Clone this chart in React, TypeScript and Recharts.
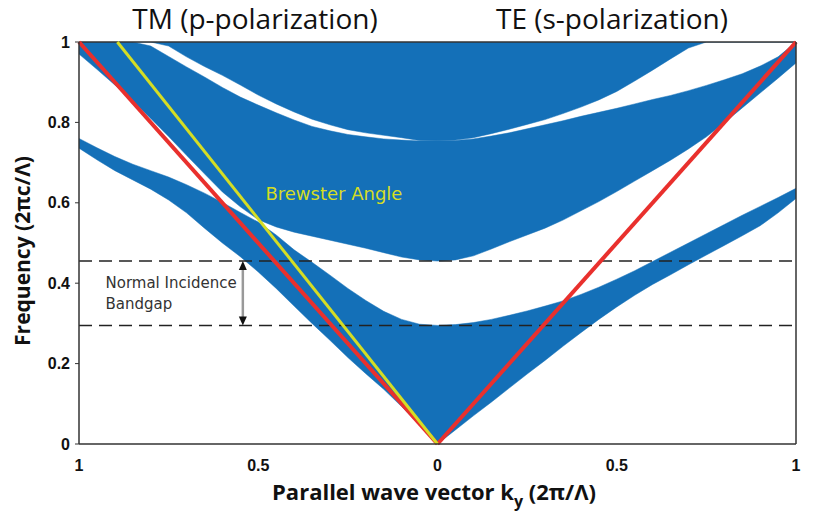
import { ComposedChart, Area, XAxis, YAxis, ReferenceLine, ReferenceDot } from 'recharts';

// |k_y| sample points (2π/Λ), shared by both polarizations
const K = [0, 0.05, 0.1, 0.15, 0.2, 0.25, 0.3, 0.35, 0.4, 0.45, 0.5, 0.55, 0.6, 0.65, 0.7, 0.75, 0.8, 0.85, 0.9, 0.95, 1];

// TM (p-polarization) band edges, frequency (2πc/Λ)
const TM_B1_LO = [0, 0.047, 0.093, 0.136, 0.175, 0.215, 0.258, 0.3, 0.343, 0.387, 0.428, 0.466, 0.5, 0.537, 0.575, 0.607, 0.634, 0.657, 0.68, 0.707, 0.736];
const TM_B1_HI = [0.295, 0.298, 0.31, 0.33, 0.357, 0.387, 0.42, 0.452, 0.483, 0.52, 0.552, 0.576, 0.601, 0.624, 0.645, 0.664, 0.68, 0.696, 0.715, 0.737, 0.76];
const TM_B2_LO = [0.455, 0.458, 0.465, 0.476, 0.487, 0.497, 0.507, 0.517, 0.527, 0.54, 0.558, 0.59, 0.627, 0.672, 0.718, 0.765, 0.81, 0.853, 0.893, 0.932, 0.97];
const TM_B2_HI = [0.755, 0.754, 0.756, 0.759, 0.764, 0.77, 0.779, 0.79, 0.806, 0.824, 0.843, 0.863, 0.887, 0.913, 0.938, 0.964, 0.99, 1, 1, 1, 1];
const TM_B3_LO = [0.755, 0.755, 0.762, 0.768, 0.774, 0.782, 0.794, 0.808, 0.826, 0.846, 0.868, 0.893, 0.917, 0.939, 0.963, 0.99, 1, 1, 1, 1, 1];

// TE (s-polarization) band edges
const TE_B1_LO = [0, 0.035, 0.07, 0.104, 0.139, 0.174, 0.208, 0.243, 0.277, 0.31, 0.341, 0.37, 0.397, 0.421, 0.446, 0.47, 0.494, 0.518, 0.543, 0.575, 0.611];
const TE_B1_HI = [0.295, 0.297, 0.302, 0.31, 0.32, 0.331, 0.343, 0.356, 0.372, 0.39, 0.41, 0.431, 0.454, 0.477, 0.5, 0.523, 0.546, 0.569, 0.591, 0.613, 0.636];
const TE_B2_LO = [0.455, 0.458, 0.468, 0.485, 0.503, 0.52, 0.537, 0.557, 0.58, 0.603, 0.628, 0.654, 0.68, 0.706, 0.734, 0.764, 0.799, 0.836, 0.873, 0.91, 0.948];
const TE_B2_HI = [0.755, 0.755, 0.759, 0.766, 0.774, 0.784, 0.794, 0.804, 0.815, 0.825, 0.835, 0.846, 0.857, 0.867, 0.879, 0.892, 0.906, 0.921, 0.94, 0.963, 1];
const TE_B3_LO = [0.755, 0.756, 0.762, 0.772, 0.783, 0.795, 0.807, 0.822, 0.838, 0.856, 0.877, 0.903, 0.93, 0.958, 0.985, 1, 1, 1, 1, 1, 1];

const TOP = 1;
const GAP_EDGES = [0.455, 0.295];
const BREWSTER_K = 0.893;

const X_TICKS = [-1, -0.5, 0, 0.5, 1];
const Y_TICKS = [0, 0.2, 0.4, 0.6, 0.8, 1];

const BLUE = '#1470b8';
const RED = '#e9302d';
const YELLOW = '#d5dd24';

const rows: any[] = [];
for (let i = K.length - 1; i > 0; i--) {
  rows.push({ x: -K[i], b1: [TM_B1_LO[i], TM_B1_HI[i]], b2: [TM_B2_LO[i], TM_B2_HI[i]], b3: [TM_B3_LO[i], TOP] });
}
for (let i = 0; i < K.length; i++) {
  rows.push({ x: K[i], b1: [TE_B1_LO[i], TE_B1_HI[i]], b2: [TE_B2_LO[i], TE_B2_HI[i]], b3: [TE_B3_LO[i], TOP] });
}

const tickStyle = { fontFamily: 'Liberation Sans', fontWeight: 700, fontSize: 16, fill: '#111' };
const fmtY = (v: number) => (v === 0 ? '0' : v === 1 ? '1' : String(v));

const DoubleArrow = (p: any) => {
  const { x1, y1, x2, y2 } = p;
  const top = Math.min(y1, y2);
  const bot = Math.max(y1, y2);
  return (
    <g>
      <line x1={x1} y1={top + 6} x2={x2} y2={bot - 6} stroke="#999" strokeWidth={2.5} />
      <polygon points={`${x1},${top} ${x1 - 4},${top + 9} ${x1 + 4},${top + 9}`} fill="#111" />
      <polygon points={`${x1},${bot} ${x1 - 4},${bot - 9} ${x1 + 4},${bot - 9}`} fill="#111" />
    </g>
  );
};

export default function App() {
  return (
    <div style={{ position: 'relative', width: 832, height: 519, background: '#fff' }}>
      <style>{'body{margin:0}'}</style>
      <ComposedChart width={832} height={519} data={rows} margin={{ top: 42, right: 0, bottom: 45, left: 0 }}>
        <XAxis
          dataKey="x"
          type="number"
          domain={[-1, 1]}
          ticks={X_TICKS}
          tickFormatter={(v: number) => String(Math.abs(v))}
          height={30}
          tick={tickStyle}
          tickSize={0}
          tickMargin={16}
          axisLine={{ stroke: '#333', strokeWidth: 1.5 }}
          allowDataOverflow
        />
        <YAxis
          domain={[0, 1]}
          ticks={Y_TICKS}
          tickFormatter={fmtY}
          width={79}
          tick={tickStyle}
          tickSize={4}
          tickMargin={5}
          axisLine={{ stroke: '#333', strokeWidth: 1.5 }}
          tickLine={{ stroke: '#333' }}
          allowDataOverflow
        />
        <YAxis
          yAxisId="r"
          orientation="right"
          domain={[0, 1]}
          ticks={Y_TICKS}
          tickFormatter={fmtY}
          width={36}
          tick={{ ...tickStyle, textAnchor: 'start' }}
          tickSize={3}
          tickMargin={4}
          axisLine={{ stroke: '#333', strokeWidth: 1.5 }}
          tickLine={{ stroke: '#333' }}
        />
        <Area dataKey="b1" type="linear" fill={BLUE} fillOpacity={1} stroke={BLUE} strokeWidth={0.5} isAnimationActive={false} />
        <Area dataKey="b2" type="linear" fill={BLUE} fillOpacity={1} stroke={BLUE} strokeWidth={0.5} isAnimationActive={false} />
        <Area dataKey="b3" type="linear" fill={BLUE} fillOpacity={1} stroke={BLUE} strokeWidth={0.5} isAnimationActive={false} />
        <ReferenceLine y={1} stroke="#333" strokeWidth={1.5} />
        {GAP_EDGES.map((g) => (
          <ReferenceLine key={g} y={g} stroke="#222" strokeWidth={1.5} strokeDasharray="13 7" />
        ))}
        <ReferenceLine segment={[{ x: -1, y: 1 }, { x: 0, y: 0 }]} stroke={RED} strokeWidth={4} />
        <ReferenceLine segment={[{ x: 0, y: 0 }, { x: 1, y: 1 }]} stroke={RED} strokeWidth={4} />
        <ReferenceLine segment={[{ x: -BREWSTER_K, y: 1 }, { x: 0, y: 0 }]} stroke={YELLOW} strokeWidth={3} />
        <ReferenceLine segment={[{ x: -0.543, y: GAP_EDGES[0] }, { x: -0.543, y: GAP_EDGES[1] }]} shape={DoubleArrow} />
        <ReferenceDot
          x={-0.48}
          y={0.607}
          r={0}
          shape={(p: any) => (
            <text x={p.cx} y={p.cy} fill={YELLOW} fontFamily="DejaVu Sans" fontSize={18}>
              Brewster Angle
            </text>
          )}
        />
        <ReferenceDot
          x={-0.926}
          y={0.388}
          r={0}
          shape={(p: any) => (
            <text x={p.cx} y={p.cy} fill="#333" fontFamily="DejaVu Sans" fontSize={15}>
              <tspan x={p.cx}>Normal Incidence</tspan>
              <tspan x={p.cx} dy={21}>Bandgap</tspan>
            </text>
          )}
        />
      </ComposedChart>
      <svg width={832} height={519} style={{ position: 'absolute', left: 0, top: 0, pointerEvents: 'none' }}>
        <text x={255} y={29} textAnchor="middle" fontFamily="Open Sans" fontSize={28} fill="#111">
          TM (p-polarization)
        </text>
        <text x={612} y={29} textAnchor="middle" fontFamily="Open Sans" fontSize={28} fill="#111">
          TE (s-polarization)
        </text>
        <text
          x={0}
          y={0}
          transform="translate(30,251) rotate(-90)"
          textAnchor="middle"
          fontFamily="Open Sans"
          fontWeight={700}
          fontSize={21}
          fill="#111"
        >
          Frequency (2πc/Λ)
        </text>
        <text x={434} y={500} textAnchor="middle" fontFamily="Open Sans" fontWeight={700} fontSize={22} fill="#111">
          Parallel wave vector k<tspan dy={7} fontSize={16}>y</tspan>
          <tspan dy={-7}> (2π/Λ)</tspan>
        </text>
      </svg>
    </div>
  );
}
